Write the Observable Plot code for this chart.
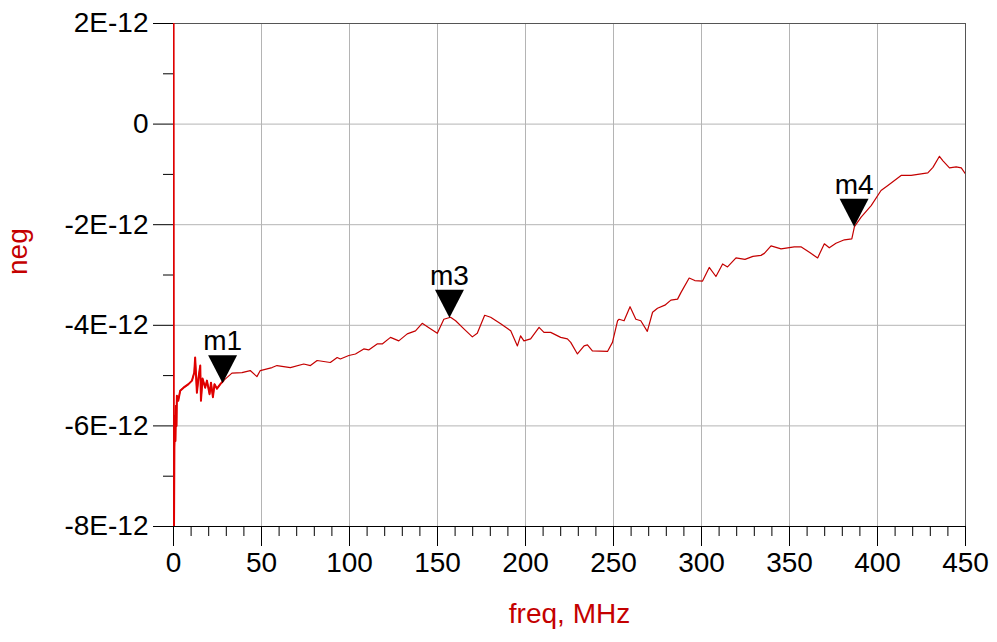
<!DOCTYPE html>
<html><head><meta charset="utf-8">
<script src="https://cdn.jsdelivr.net/npm/d3@7"></script>
<script src="https://cdn.jsdelivr.net/npm/@observablehq/plot@0.6"></script>
<style>body{margin:0;background:#fff} svg{display:block}</style>
</head><body><div id="chart"></div>
<script>
// frequency in MHz
const freq = [0, 0.15, 0.5, 0.85, 1.1, 1.4, 1.7, 1.93, 2.7, 3.8, 5.7, 8.5, 10.5, 11.8, 12.3, 13.3, 14.2, 15.2, 15.6, 16.5, 18.0, 19.0, 20.5, 21.3, 22.4, 23.3, 24.7, 26.6, 28.4, 33.2, 38.9, 43.6, 47.4, 49.3, 56.0, 58.8, 66.4, 74.0, 77.8, 81.6, 89.1, 93.0, 94.8, 99.6, 103.4, 108.1, 110.9, 115.7, 118.6, 123.3, 128.0, 132.8, 137.5, 141.3, 145.1, 149.9, 153.6, 157.4, 160.3, 165.0, 169.8, 172.6, 176.8, 180.2, 185.9, 191.6, 195.4, 197.2, 199.1, 202.9, 207.7, 210.5, 214.3, 220.0, 223.8, 225.7, 229.5, 233.3, 235.2, 238.0, 246.6, 249.4, 252.3, 253.2, 256.0, 259.4, 262.7, 265.5, 269.2, 272.2, 275.0, 279.2, 282.6, 286.4, 288.3, 293.0, 296.2, 300.6, 304.4, 308.2, 312.0, 314.8, 319.6, 324.7, 329.2, 333.8, 335.7, 339.5, 345.2, 352.7, 356.5, 361.3, 366.0, 369.8, 372.6, 376.4, 381.2, 385.4, 386.9, 390.7, 396.4, 402.0, 405.9, 413.4, 419.1, 428.6, 431.5, 435.2, 437.2, 440.9, 444.7, 447.6, 450];
// "neg" values in units of 1E-12
const neg = [4, -9, -6.45, -5.80, -6.30, -5.60, -6.00, -5.40, -5.50, -5.30, -5.24, -5.17, -5.10, -4.94, -4.64, -5.34, -5.04, -4.80, -5.50, -5.06, -5.24, -5.10, -5.37, -5.14, -5.43, -5.17, -5.26, -5.17, -5.10, -4.95, -4.94, -4.90, -5.02, -4.90, -4.84, -4.80, -4.84, -4.77, -4.80, -4.70, -4.74, -4.64, -4.67, -4.60, -4.57, -4.47, -4.49, -4.37, -4.37, -4.24, -4.31, -4.17, -4.11, -3.96, -4.05, -4.16, -3.88, -3.84, -3.91, -4.07, -4.23, -4.16, -3.80, -3.84, -3.97, -4.11, -4.41, -4.21, -4.31, -4.27, -4.04, -4.14, -4.14, -4.24, -4.27, -4.34, -4.57, -4.41, -4.39, -4.51, -4.52, -4.34, -3.91, -3.88, -3.91, -3.63, -3.88, -3.91, -4.12, -3.74, -3.66, -3.60, -3.50, -3.48, -3.35, -3.06, -3.11, -3.12, -2.85, -3.03, -2.78, -2.84, -2.66, -2.69, -2.63, -2.61, -2.57, -2.42, -2.48, -2.44, -2.44, -2.55, -2.66, -2.38, -2.46, -2.37, -2.30, -2.28, -2.04, -1.85, -1.62, -1.32, -1.22, -1.02, -1.02, -0.97, -0.86, -0.64, -0.73, -0.87, -0.85, -0.87, -0.99];

const markerNames = ["m1", "m3", "m4"];
const markerFreq = [27.9, 156.8, 386.7];
const markerNeg = [-5.15, -3.85, -2.04];

const xMajor = [0, 50, 100, 150, 200, 250, 300, 350, 400, 450];
const xMinor = [10, 20, 30, 40, 60, 70, 80, 90, 110, 120, 130, 140, 160, 170, 180, 190, 210, 220, 230, 240, 260, 270, 280, 290, 310, 320, 330, 340, 360, 370, 380, 390, 410, 420, 430, 440];
const yMajor = [2, 0, -2, -4, -6, -8];
const yMinor = [1, -1, -3, -5, -7];
const yTickLabels = ["2E-12", "0", "-2E-12", "-4E-12", "-6E-12", "-8E-12"];

const xTitle = "freq, MHz";
const yTitle = "neg";

const data = freq.map((f, i) => ({freq: f, neg: neg[i]}));
const noisyStart = data.filter(d => d.freq <= 28.4);
const markers = markerNames.map((n, i) => ({name: n, freq: markerFreq[i], neg: markerNeg[i]}));

const downTriangle = {
  draw(ctx) {
    ctx.moveTo(0, 0);
    ctx.lineTo(-14.5, -28);
    ctx.lineTo(14.5, -28);
    ctx.closePath();
  }
};

const red = "#c40000";
const brightRed = "#e00000";
const font = "'Liberation Sans', Arial, sans-serif";

const chart = Plot.plot({
  width: 997,
  height: 642,
  marginLeft: 173,
  marginRight: 32,
  marginTop: 23,
  marginBottom: 116,
  style: {fontFamily: font, fontSize: "28px", color: "#000", background: "#fff"},
  x: {domain: [0, 450], label: null},
  y: {domain: [-8, 2], label: null},
  marks: [
    Plot.gridX(xMajor, {stroke: "#b4b4b4", strokeOpacity: 1}),
    Plot.gridY(yMajor, {stroke: "#b4b4b4", strokeOpacity: 1}),
    Plot.frame({stroke: "#555"}),
    Plot.ruleY([-8], {stroke: "#000"}),
    Plot.axisX(xMinor, {tickSize: 10, tickFormat: () => "", label: null}),
    Plot.axisX(xMajor, {tickSize: 20, tickPadding: 6, fontSize: 28, label: null}),
    Plot.axisY(yMinor, {tickSize: 10, tickFormat: () => "", label: null}),
    Plot.axisY(yMajor, {tickSize: 20, tickPadding: 5, fontSize: 28, label: null,
      tickFormat: d => yTickLabels[yMajor.indexOf(d)]}),
    Plot.line(data, {x: "freq", y: "neg", stroke: red, strokeWidth: 1.2, clip: true}),
    Plot.line(noisyStart, {x: "freq", y: "neg", stroke: brightRed, strokeWidth: 2, clip: true}),
    Plot.dot(markers, {x: "freq", y: "neg", symbol: downTriangle, fill: "#000", stroke: "none", r: 5}),
    Plot.text(markers, {x: "freq", y: "neg", text: "name", dy: -33, lineAnchor: "bottom", fontSize: 28, fill: "#000"}),
    Plot.text([yTitle], {frameAnchor: "left", dx: -155, rotate: -90, fill: red, fontSize: 28}),
    Plot.text([xTitle], {frameAnchor: "bottom", dy: 96, fill: red, fontSize: 28})
  ]
});
document.getElementById("chart").appendChild(chart);
</script>
</body></html>
